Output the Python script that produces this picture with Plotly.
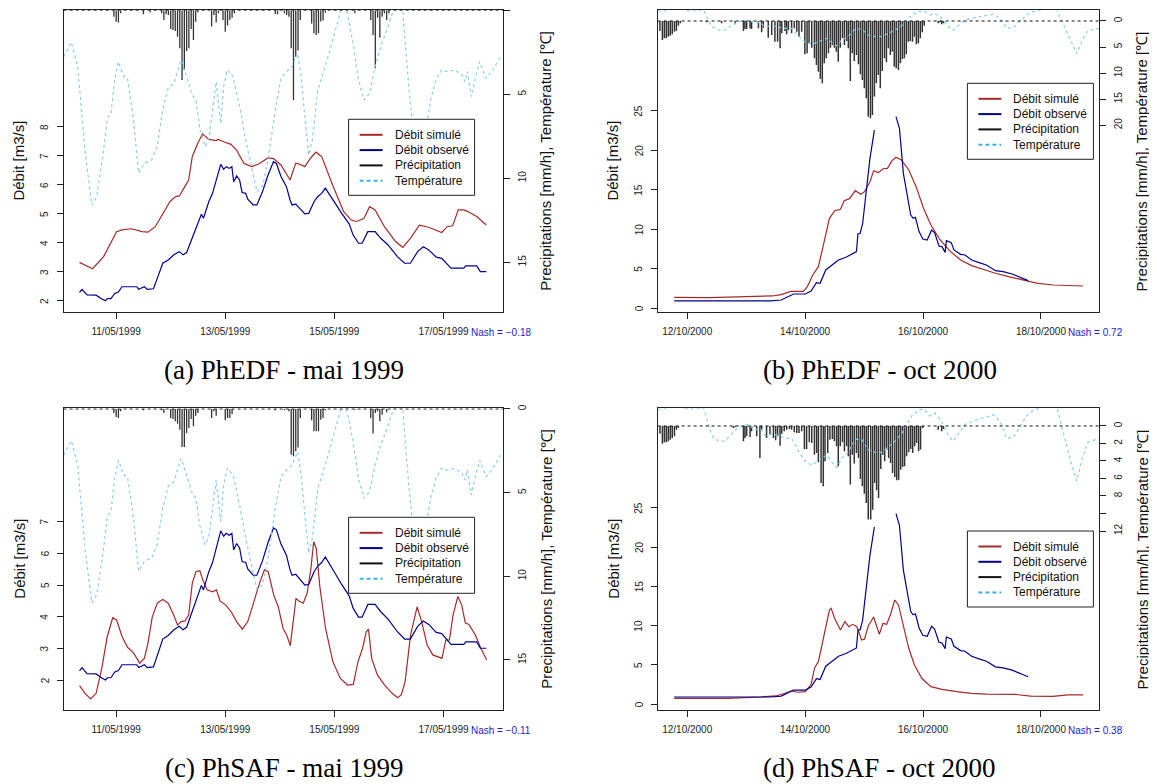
import pandas as pd
import plotly.graph_objects as go

# the page puts the figure 8 px in from the top-left corner (body margin),
# so positions below are read in page pixels and shifted by OFF
OFF = 8
W, H = 1157 - OFF, 784 - OFF
MAY0 = pd.Timestamp("1999-05-10")
OCT0 = pd.Timestamp("2000-10-11")

# ---------------- data (hours after MAY0 / OCT0) ----------------
OBS_MAY_H = [7.9, 9.0, 11.2, 15.2, 17.7, 19.3, 20.1, 21.7, 23.4, 25.0, 26.6, 33.1, 33.9, 36.4, 37.7,
             40.4, 42.9, 44.5, 46.9, 49.4, 51.8, 53.4, 55.0, 57.5, 59.9, 61.5, 62.4, 64.8, 66.4, 68.0,
             70.0, 71.3, 72.4, 73.7, 74.9, 75.7, 77.0, 78.3, 79.4, 81.0, 81.9, 84.3, 85.9, 88.4, 90.8,
             93.2, 94.5, 96.5, 98.9, 100.5, 101.4, 103.0, 105.4, 107.0, 108.7, 111.1, 112.7, 114.4,
             116.0, 117.6, 120.8, 123.2, 126.5, 128.2, 130.6, 132.2, 134.7, 137.9, 140.4, 143.6, 147.7,
             150.9, 153.4, 156.6, 159.1, 161.5, 164.8, 167.2, 171.3, 176.9, 177.8, 182.6, 184.2, 186.8]
OBS_MAY_Q = [2.30, 2.40, 2.21, 2.20, 2.07, 2.01, 2.08, 2.08, 2.26, 2.31, 2.49, 2.49, 2.40, 2.49, 2.40,
             2.42, 2.95, 3.30, 3.41, 3.59, 3.70, 3.59, 3.67, 4.16, 4.70, 4.99, 4.85, 5.43, 5.71, 6.17,
             6.71, 6.54, 6.63, 6.57, 6.63, 6.11, 6.31, 6.17, 5.74, 5.71, 5.51, 5.31, 5.31, 5.77, 6.34,
             6.80, 6.74, 6.29, 5.94, 5.48, 5.31, 5.34, 5.14, 5.00, 5.02, 5.43, 5.60, 5.71,
             5.89, 5.71, 5.31, 5.02, 4.66, 4.28, 3.99, 3.99, 4.39, 4.39, 4.16, 3.93, 3.53,
             3.30, 3.30, 3.70, 3.87, 3.76, 3.51, 3.47, 3.13, 3.13, 3.21, 3.21, 3.01, 3.01]

SIM_A_H = [7.9, 13.6, 18.5, 21.7, 24.2, 26.6, 30.7, 35.5, 38.0, 41.2, 44.5, 47.7, 50.2, 51.8, 54.2,
           55.9, 57.5, 59.9, 62.0, 64.8, 68.0, 68.8, 71.3, 74.5, 77.0, 80.2, 83.5, 86.7, 90.8, 93.2,
           96.5, 100.5, 103.0, 104.6, 107.0, 109.5, 111.9, 114.4, 119.2, 124.1, 127.4, 129.8, 133.0,
           135.5, 137.9, 142.0, 146.9, 150.1, 153.4, 157.4, 161.5, 167.2, 169.6, 172.0, 174.5, 176.9,
           178.5, 182.6, 186.8]
SIM_A_Q = [3.33, 3.11, 3.53, 3.99, 4.39, 4.45, 4.49, 4.39, 4.37, 4.56, 5.02, 5.43, 5.60, 5.62, 5.94,
           6.17, 6.98, 7.44, 7.76, 7.57, 7.53, 7.57, 7.49, 7.40, 7.20, 6.75, 6.63, 6.72, 6.93, 6.91,
           6.69, 6.17, 6.75, 6.72, 6.63, 6.92, 7.13, 6.98, 6.00, 5.08, 4.79, 4.74, 4.85,
           5.25, 5.14, 4.56, 4.05, 3.85, 4.16, 4.61, 4.54, 4.36, 4.56, 4.59, 5.14, 5.14,
           5.09, 4.91, 4.62]

SIM_C_H = [7.9, 10.3, 12.8, 15.2, 17.7, 20.1, 22.5, 24.2, 26.6, 29.0, 31.5, 34.4, 36.4, 38.0, 39.9,
           42.1, 44.5, 46.9, 49.4, 51.0, 52.6, 54.3, 55.9, 57.5, 59.1, 60.8, 62.4, 64.0, 66.5, 68.1,
           69.7, 72.2, 74.6, 77.0, 79.5, 81.9, 84.4, 86.8, 89.2, 90.9, 93.3, 95.3, 97.4, 99.0, 100.6,
           101.8, 103.1, 104.4, 106.3, 108.0, 109.6, 110.9, 112.0, 113.6, 116.1, 119.3, 122.6, 125.8,
           128.3, 130.4, 132.4, 134.0, 135.0, 136.4, 138.9, 142.1, 145.4, 147.8, 149.4, 151.1, 153.5,
           156.4, 158.4, 160.8, 163.3, 167.3, 169.0, 170.6, 172.2, 174.3, 176.0, 177.6, 179.2, 182.0,
           184.4, 187.0]
SIM_C_Q = [1.83, 1.59, 1.41, 1.59, 2.38, 3.38, 3.97, 3.90, 3.38, 3.04, 2.88, 2.54, 2.69, 3.17, 4.00,
           4.43, 4.55, 4.43, 4.04, 3.74, 3.85, 3.87, 4.06, 5.06, 5.42, 5.45, 5.11, 4.85, 4.79, 4.85,
           4.50, 4.37, 4.16, 3.85, 3.61, 3.85, 4.43, 5.00, 5.48, 5.42, 4.69, 4.32, 3.64, 3.43, 3.09,
           3.85, 4.58, 4.50, 4.43, 4.74, 5.48, 6.37, 6.16, 4.95, 3.64, 2.59, 2.06, 1.85,
           1.87, 2.59, 3.01, 3.53, 3.61, 2.69, 2.17, 1.85, 1.59, 1.45, 1.54, 1.96, 3.43,
           4.31, 3.85, 3.11, 2.80, 2.69, 3.27, 3.27, 4.06, 4.64, 4.37, 3.80, 3.76, 3.43,
           3.01, 2.64]

TEMP_MAY_H = [0.9, 4.3, 7.1, 10.3, 13.3, 15.5, 18.5, 20.1, 21.7, 23.4, 25.0, 27.4, 29.0, 31.5, 33.9,
              36.4, 39.6, 42.0, 44.5, 46.9, 49.4, 52.6, 55.0, 57.5, 59.1, 60.7, 63.2, 64.8, 66.4, 68.0,
              68.9, 70.0, 71.3, 72.9, 75.4, 78.6, 81.0, 83.5, 85.9, 88.4, 90.8, 94.0, 96.5, 98.9, 101.4,
              103.8, 105.4, 107.0, 108.7, 110.3, 112.7, 116.0, 119.2, 122.5, 124.1, 125.7, 128.2, 130.6,
              133.0, 135.5, 137.9, 140.4, 143.6, 146.9, 150.1, 152.6, 155.0, 156.6, 159.9, 162.3, 164.7,
              167.2, 169.6, 172.9, 176.1, 177.4, 178.5, 180.2, 181.8, 183.9, 186.7, 189.2, 193.2]
TEMP_MAY = [2.76, 1.90, 3.35, 8.31, 11.59, 11.09, 8.31, 6.43, 6.13, 4.15, 3.06, 3.95, 4.05, 6.33, 9.70,
            9.11, 8.91, 8.12, 5.93, 4.64, 4.35, 2.96, 3.95, 5.04, 5.34, 6.92, 8.12, 7.62, 5.93, 4.25,
            5.34, 6.73, 4.54, 3.55, 3.95, 5.93, 7.72, 9.31, 10.79, 10.50, 8.91, 5.93, 4.05, 3.65, 3.35,
            2.56, 3.95, 6.33, 8.61, 7.72, 4.74, 3.35, 1.77, 0.18, -0.4, 0.18, 1.96, 4.15,
            5.34, 4.94, 3.35, 2.16, 0.97, -0.4, 0.08, 4.35, 7.72, 8.91, 7.52, 5.34, 4.15,
            3.55, 3.65, 3.55, 3.85, 4.25, 3.65, 5.14, 4.15, 3.06, 4.05, 3.65, 2.76]

RAIN_A_H = [23, 24, 25, 26, 36, 39, 44, 45, 46, 47, 48, 49, 50, 51, 52, 53, 54, 55, 56, 57, 58, 59, 60,
            66, 67, 68, 69, 71, 72, 73, 74, 75, 76, 94, 95, 98, 99, 100, 101, 102, 103, 104, 105,
            110, 111, 112, 113, 114, 115, 116, 129, 136, 137, 138, 139, 140, 141, 142, 143, 144]
RAIN_A = [0.38, 0.68, 0.72, 0.18, 0.24, 0.12, 0.18, 0.58, 0.24, 0.28, 1.11, 1.17, 1.23, 1.57, 2.26,
          4.15, 3.55, 2.42, 2.26, 1.11, 1.77, 0.68, 0.12, 0.97, 0.28, 0.72, 0.18, 0.58, 1.27, 0.91,
          0.58, 0.44, 0.18, 0.24, 0.24, 0.18, 0.28, 0.38, 2.26, 5.34, 2.76, 2.40, 0.58,
          0.78, 1.37, 1.47, 1.37, 0.66, 0.60, 0.15, 0.18, 0.58, 1.47, 3.45, 0.45, 1.63, 0.38, 0.18,
          0.58, 0.18]

RAIN_C_H = [23, 24, 25, 26, 36, 44, 45, 48, 49, 50, 51, 52, 53, 54, 55, 56, 57, 58, 59, 60, 66, 67, 68,
            72, 73, 74, 75, 94, 98, 100, 101, 102, 103, 104, 105, 110, 111, 112, 113, 114, 115, 116,
            129, 136, 137, 138, 139, 140, 141, 143]
RAIN_C = [0.24, 0.48, 0.54, 0.14, 0.08, 0.08, 0.24, 0.54, 0.60, 0.74, 0.88, 1.24, 2.27, 2.27, 1.43,
          1.14, 0.60, 1.04, 0.40, 0.24, 0.54, 0.14, 0.40, 0.68, 0.54, 0.54, 0.30, 0.08, 0.08, 0.14,
          2.73, 2.83, 2.53, 2.30, 0.54, 0.68, 1.33, 1.33, 1.33, 0.64, 0.54, 0.08, 0.04, 0.54, 1.47,
          0.24, 0.14, 0.74, 0.34, 0.20]

OBS_OCT_H = [18.7, 57.8, 62.3, 64.6, 67.3, 72.1, 74.4, 76.6, 78.1, 80.4, 82.6, 85.6, 88.6, 91.7, 92.9,
             93.5, 94.4, 95.4, 96.9, 98.4, 100.2, 104.6, 109.0, 110.4, 112.0, 113.5, 115.0, 116.0,
             116.9, 118.4, 119.9, 121.7, 123.5, 124.7, 126.5, 127.7, 129.0, 129.5, 131.5, 132.6,
             135.3, 137.1, 139.8, 142.8, 145.8, 149.5, 152.6, 156.3, 158.6, 160.8, 162.8]
OBS_OCT_Q = [0.93, 0.93, 1.05, 1.39, 1.81, 1.81, 2.19, 3.25, 3.16, 4.85, 5.35, 6.11, 6.45, 6.96, 7.17,
             9.40, 9.49, 10.67, 14.97, 18.97, 22.55, None, 24.24, 22.77, 17.07, 14.54, 11.80, 11.38,
             11.51, 9.70, 8.77, 8.64, 9.91, 9.57, 7.88, 7.80, 7.08, 8.56, 8.31, 7.38,
             6.83, 6.75, 6.11, 5.78, 5.48, 4.76, 4.64, 4.34, 4.00, 3.75, 3.50]

SIM_B_H = [18.7, 33.0, 48.0, 58.6, 62.3, 66.1, 71.3, 72.9, 75.1, 77.4, 79.6, 81.9, 84.1, 86.4, 87.9,
           90.1, 92.4, 94.7, 96.2, 98.4, 99.9, 101.9, 103.7, 105.5, 107.4, 109.0, 111.2, 114.2, 117.2,
           120.2, 123.2, 127.0, 130.8, 135.3, 139.8, 144.3, 149.5, 154.8, 160.8, 166.8, 172.9, 178.9,
           185.2]
SIM_B_Q = [1.39, 1.35, 1.48, 1.56, 1.73, 2.15, 2.15, 2.74, 4.22, 5.27, 8.22, 11.38, 12.35, 12.52, 13.62,
           13.87, 14.88, 14.42, 14.76, 16.02, 17.41, 17.16, 17.66, 17.71, 18.68, 19.10, 18.76, 17.50,
           15.39, 12.65, 10.54, 8.64, 7.29, 6.11, 5.40, 4.93, 4.43, 4.00, 3.58, 3.16, 2.95, 2.91,
           2.82]

SIM_D_H = [18.7, 40.5, 54.1, 60.1, 63.8, 66.1, 69.1, 72.1, 74.4, 75.9, 77.4, 78.9, 80.4, 81.9, 82.6,
           84.1, 86.4, 88.2, 89.8, 91.3, 93.1, 95.0, 96.2, 97.7, 99.9, 102.2, 103.7, 105.2, 106.7,
           108.5, 110.0, 112.0, 114.2, 116.5, 119.5, 123.2, 127.7, 133.8, 139.8, 145.8, 153.3, 157.8,
           163.8, 172.9, 178.9, 185.2]
SIM_D_Q = [0.75, 0.75, 0.93, 1.06, 1.40, 1.69, 1.53, 1.61, 2.54, 4.66, 5.42, 7.54, 10.08, 11.99, 12.20,
           10.85, 9.45, 10.51, 9.87, 10.17, 9.87, 8.18, 8.31, 9.96, 11.10, 8.90, 10.30, 10.17, 11.36,
           13.26, 12.63, 10.08, 7.12, 5.00, 3.31, 2.25, 1.90, 1.60, 1.40, 1.30, 1.30, 1.25,
           1.05, 1.00, 1.20, 1.20]

TEMP_OCT_H = [12.0, 15.0, 18.0, 21.0, 23.1, 27.0, 30.6, 31.9, 34.0, 36.7, 39.4, 42.1, 44.8, 48.9, 51.6,
              53.6, 55.7, 58.4, 61.1, 63.8, 66.5, 69.2, 71.9, 74.7, 77.4, 80.8, 82.8, 84.9, 86.9, 89.6,
              92.3, 95.0, 97.7, 100.5, 103.2, 105.9, 108.6, 111.3, 115.4, 118.8, 120.8, 122.8, 124.9,
              127.6, 130.3, 132.3, 134.4, 137.1, 141.2, 145.2, 148.6, 151.3, 154.1, 156.8, 159.5,
              162.2, 164.9, 170.0, 174.4, 177.4, 180.4, 182.6, 184.9, 187.1, 191.8]
TEMP_OCT = [-1.9, -2.0, -2.6, -2.4, -2.0, -1.95, -2.1, -0.83, 1.09, 1.73, 1.73, 0.90, 0.13, -0.19, 0.45,
            0.26, 1.09, 0.90, 1.09, 1.41, 1.41, 2.82, 3.97, 4.49, 3.97, 3.33, 4.10, 4.74, 3.65, 3.01,
            1.54, 1.54, 2.69, 3.01, 3.01, 2.37, 1.73, 0.90, -1.15, -1.92, -1.79, -1.15, -1.47,
            -0.51, 1.09, 1.73, 0.90, -0.19, -0.64, -1.03, -1.28, -0.51, 1.41, 1.28, 0.13,
            -1.15, -1.79, -2.3, -2.2, 1.0, 4.3, 6.3, 3.65, 1.86, 1.40]

RAIN_B_H = [12.9, 13.9, 14.7, 15.5, 16.3, 17.1, 17.9, 18.8, 19.6, 20.4,
            21.2, 31.9, 38.0, 43.5, 46.9, 47.5, 48.2, 49.6, 50.2, 53.0,
            54.3, 55.0, 57.0, 58.4, 59.7, 60.8, 61.8, 62.5, 63.8, 64.5,
            65.2, 66.5, 67.6, 68.6, 69.5, 70.6, 71.9, 72.8, 73.6, 74.7,
            75.8, 76.6, 77.4, 78.2, 79.0, 79.8, 80.6, 81.5, 82.3, 83.1,
            83.9, 84.7, 85.5, 86.3, 87.2, 88.0, 88.9, 89.6, 90.4, 91.2,
            92.0, 92.9, 93.7, 94.5, 95.3, 96.1, 96.9, 97.7, 98.6, 99.4,
            100.2, 101.0, 101.8, 102.6, 103.4, 104.3, 105.1, 105.9, 106.7, 107.5,
            108.3, 109.1, 110.0, 110.8, 111.6, 112.4, 113.2, 114.0, 114.8, 115.7,
            116.5, 117.3, 118.1, 118.9, 119.7, 120.5, 126.2, 126.9, 127.6, 128.3]
RAIN_B = [1.92, 3.64, 3.32, 3.32, 3.00, 2.81, 2.56, 2.04, 1.92, 0.89,
          0.45, 0.26, 0.45, 0.64, 1.92, 1.53, 1.53, 1.41, 1.53, 1.41,
          2.17, 1.28, 3.19, 2.68, 3.96, 3.96, 5.24, 2.36, 1.92, 2.56,
          1.73, 2.36, 1.41, 2.04, 3.00, 2.04, 6.39, 6.20, 4.28, 5.11,
          7.16, 8.43, 9.71, 11.12, 11.95, 8.12, 7.16, 6.20, 5.11, 4.60,
          5.11, 5.88, 7.80, 5.11, 3.32, 4.60, 3.83, 5.24, 11.50, 6.20,
          7.67, 6.52, 8.31, 10.22, 11.31, 12.91, 14.82, 18.34, 18.66, 18.02,
          14.50, 11.95, 10.35, 12.91, 9.58, 7.16, 7.92, 5.24, 6.52, 5.88,
          8.75, 9.07, 9.39, 8.12, 7.28, 7.16, 6.39, 3.96, 3.83, 3.96,
          3.00, 4.47, 4.28, 3.32, 2.17, 0.89, 0.45, 0.26, 0.64, 0.45]

RAIN_D_H = [12.9, 13.9, 14.7, 15.5, 16.3, 17.1, 17.9, 18.8, 19.6, 20.4,
            42.8, 43.5, 46.9, 47.5, 48.2, 49.6, 50.2, 52.3, 53.6, 54.3,
            56.3, 57.7, 59.1, 60.0, 60.8, 61.8, 62.5, 63.5, 64.5, 65.6,
            66.5, 67.6, 68.6, 69.5, 70.6, 71.7, 72.6, 73.7, 74.7, 75.8,
            76.7, 77.4, 78.5, 79.4, 80.1, 81.2, 82.1, 83.1, 83.9, 84.8,
            85.5, 86.3, 87.2, 88.0, 88.9, 89.6, 90.4, 91.2, 92.0, 92.9,
            93.7, 94.5, 95.3, 96.1, 96.9, 97.7, 98.7, 99.5, 100.3, 101.1,
            101.9, 102.8, 103.6, 104.4, 105.2, 106.0, 106.8, 107.6, 108.5, 109.3,
            110.1, 110.9, 111.7, 112.5, 113.3, 114.2, 115.0, 115.8, 116.6, 117.4,
            118.2, 119.0, 119.9, 126.2, 127.6, 128.3]
RAIN_D = [0.88, 2.02, 1.87, 1.87, 1.75, 1.56, 1.37, 1.18, 0.42, 0.23,
          0.23, 0.11, 1.75, 1.37, 1.18, 1.26, 0.61, 1.18, 3.66, 0.42,
          1.37, 0.99, 1.37, 1.64, 1.18, 2.25, 0.88, 0.61, 0.42, 0.34,
          0.42, 0.72, 0.80, 0.80, 0.61, 2.63, 2.63, 1.87, 1.94, 3.28,
          3.09, 4.15, 6.51, 6.90, 4.04, 3.09, 1.56, 1.49, 1.75, 2.32,
          4.61, 2.32, 1.87, 2.90, 2.32, 3.47, 6.70, 3.28, 4.30, 3.09,
          3.66, 6.06, 6.90, 7.73, 8.80, 10.70, 10.70, 9.56, 6.51, 7.35,
          8.23, 4.91, 3.28, 4.04, 2.70, 3.66, 4.23, 5.37, 5.83, 6.21,
          6.13, 4.99, 4.69, 4.61, 3.47, 3.01, 2.63, 3.09, 2.32, 1.94,
          2.90, 2.70, 0.23, 0.42, 0.61, 0.34]

MAY_TICKS = ["1999-05-11", "1999-05-13", "1999-05-15", "1999-05-17"]
MAY_LABELS = ["11/05/1999", "13/05/1999", "15/05/1999", "17/05/1999"]
OCT_TICKS = ["2000-10-12", "2000-10-14", "2000-10-16", "2000-10-18"]
OCT_LABELS = ["12/10/2000", "14/10/2000", "16/10/2000", "18/10/2000"]

LEGEND_LABELS = ["Débit simulé", "Débit observé", "Précipitation", "Température"]
NASH = ["Nash = \u22120.18", "Nash = 0.72", "Nash = \u22120.11", "Nash = 0.38"]
CAPTIONS = ["(a) PhEDF - mai 1999", "(b) PhEDF - oct 2000",
            "(c) PhSAF - mai 1999", "(d) PhSAF - oct 2000"]

SIM_COL = "#A52A2A"
OBS_COL = "#00008B"
RAIN_COL = "#333333"
TEMP_COL = "#87CEEB"
NASH_COL = "#1c1cc8"
SANS = "Liberation Sans, Arial, sans-serif"
SERIF = "Liberation Serif, Times New Roman, serif"


def px(x):
    return (x - OFF) / W


def py(y):
    return 1 - (y - OFF) / H


def when(t0, hours):
    return [t0 + pd.Timedelta(hours=h) for h in hours]


def spikes(t0, hours, values):
    # R type="h": one vertical segment from 0 to the value at every time step
    xs, ys = [], []
    for t, v in zip(when(t0, hours), values):
        xs += [t, t, None]
        ys += [0, v, None]
    return xs, ys


panels = [
    dict(t0=MAY0, xr=(0.89, 194.07), box=(63.6, 10.3, 502.8, 311.7),
         ticks=MAY_TICKS, labels=MAY_LABELS,
         lrange=[1.63, 12.02], lticks=[2, 3, 4, 5, 6, 7, 8],
         rrange=[17.94, 0], rticks=[0, 5, 10, 15], rtext=["0", "5", "10", "15"],
         sim=(SIM_A_H, SIM_A_Q), obs=(OBS_MAY_H, OBS_MAY_Q), rain=(RAIN_A_H, RAIN_A),
         temp=(TEMP_MAY_H, TEMP_MAY), leg=(348.6, 119.3), barw=1.3),
    dict(t0=OCT0, xr=(11.95, 191.8), box=(657.6, 10.3, 1099.4, 311.7),
         ticks=OCT_TICKS, labels=OCT_LABELS,
         lrange=[-0.43, 37.7], lticks=[0, 5, 10, 15, 20, 25],
         rrange=[55.74, -2.05], rticks=[0, 5, 10, 15, 20], rtext=["0", "5", "10", "15", "20"],
         sim=(SIM_B_H, SIM_B_Q), obs=(OBS_OCT_H, OBS_OCT_Q), rain=(RAIN_B_H, RAIN_B),
         temp=(TEMP_OCT_H, TEMP_OCT), leg=(967.4, 83.3), barw=1.5),
    dict(t0=MAY0, xr=(0.89, 194.07), box=(63.6, 408.3, 502.8, 709.8),
         ticks=MAY_TICKS, labels=MAY_LABELS,
         lrange=[1.07, 10.57], lticks=[2, 3, 4, 5, 6, 7],
         rrange=[17.98, -0.04], rticks=[0, 5, 10, 15], rtext=["0", "5", "10", "15"],
         sim=(SIM_C_H, SIM_C_Q), obs=(OBS_MAY_H, OBS_MAY_Q), rain=(RAIN_C_H, RAIN_C),
         temp=(TEMP_MAY_H, TEMP_MAY), leg=(348.6, 517.3), barw=1.3),
    dict(t0=OCT0, xr=(11.95, 191.8), box=(657.6, 408.3, 1099.4, 709.8),
         ticks=OCT_TICKS, labels=OCT_LABELS,
         lrange=[-0.7, 37.64], lticks=[0, 5, 10, 15, 20, 25],
         rrange=[32.43, -2.02], rticks=[0, 2, 4, 6, 8, 10, 12],
         rtext=["0", "2", "4", "6", "8", "", "12"],
         sim=(SIM_D_H, SIM_D_Q), obs=(OBS_OCT_H, OBS_OCT_Q), rain=(RAIN_D_H, RAIN_D),
         temp=(TEMP_OCT_H, TEMP_OCT), leg=(967.4, 531.0), barw=1.5),
]

fig = go.Figure()
layout = {}
shapes = []
annotations = []
tickfont = dict(family=SANS, size=10, color="#222")


def note(text, x, y, size, color="#111", family=SANS, angle=0, xanchor="center", yref=None):
    annotations.append(dict(text=text, x=px(x), y=py(y) if yref is None else y, xref="paper",
                            yref="paper" if yref is None else yref,
                            xanchor=xanchor, yanchor="middle", textangle=angle,
                            showarrow=False, borderpad=0,
                            font=dict(family=family, size=size, color=color)))


for i, p in enumerate(panels):
    n = i + 1
    xa = "x" if n == 1 else f"x{n}"
    ya = "y" if n == 1 else f"y{2 * n - 1}"
    yb = f"y{2 * n}"
    x0, y0, x1, y1 = p["box"]
    t0 = p["t0"]

    fig.add_trace(go.Scatter(x=when(t0, p["sim"][0]), y=p["sim"][1], mode="lines",
                             line=dict(color=SIM_COL, width=1.2), xaxis=xa, yaxis=ya))
    fig.add_trace(go.Scatter(x=when(t0, p["obs"][0]), y=p["obs"][1], mode="lines",
                             line=dict(color=OBS_COL, width=1.2), xaxis=xa, yaxis=ya,
                             connectgaps=False))
    rx, ry = spikes(t0, *p["rain"])
    fig.add_trace(go.Scatter(x=rx, y=ry, mode="lines",
                             line=dict(color=RAIN_COL, width=p["barw"]),
                             xaxis=xa, yaxis=yb, connectgaps=False))
    fig.add_trace(go.Scatter(x=when(t0, p["temp"][0]), y=p["temp"][1], mode="lines",
                             line=dict(color=TEMP_COL, width=1.2, dash="3px,3px"),
                             xaxis=xa, yaxis=yb))

    xname = "xaxis" if n == 1 else f"xaxis{n}"
    yname = "yaxis" if n == 1 else f"yaxis{2 * n - 1}"
    yname2 = f"yaxis{2 * n}"
    layout[xname] = dict(
        domain=[px(x0), px(x1)], anchor=ya, type="date",
        range=[t0 + pd.Timedelta(hours=p["xr"][0]), t0 + pd.Timedelta(hours=p["xr"][1])],
        tickvals=p["ticks"], ticktext=p["labels"], ticks="outside", ticklen=6,
        tickcolor="#222", showline=True, mirror=True, linecolor="#222", linewidth=1,
        showgrid=False, zeroline=False, tickfont=tickfont, automargin=False,
        ticklabelstandoff=4)
    # left tick labels are written as rotated notes at the tick values (R las=0 style)
    layout[yname] = dict(
        domain=[py(y1), py(y0)], anchor=xa, range=p["lrange"], tickvals=p["lticks"],
        ticks="outside", ticklen=6, tickcolor="#222", showticklabels=False, showline=True,
        mirror=True, linecolor="#222", linewidth=1, showgrid=False, zeroline=False,
        automargin=False)
    layout[yname2] = dict(
        overlaying=ya, side="right", anchor=xa, range=p["rrange"], tickvals=p["rticks"],
        ticktext=p["rtext"], ticks="outside", ticklen=6, tickcolor="#222", tickangle=-90,
        showline=False, showgrid=False, zeroline=False, tickfont=tickfont,
        automargin=False, ticklabelstandoff=4)
    for v in p["lticks"]:
        note(str(v), x0 - 18.6, v, 10, color="#222", angle=-90, yref=ya)

    # dotted zero line of the precipitation axis
    shapes.append(dict(type="line", xref=f"{xa} domain", x0=0, x1=1, yref=yb, y0=0, y1=0,
                       line=dict(color="#111", width=1, dash="dot")))

    cy = (y0 + y1) / 2
    note("Débit [m3/s]", x0 - 45, cy, 15, angle=-90)
    note("Precipitations [mm/h], Température [\u2103]", x1 + 43, cy, 15, angle=-90)
    note(NASH[i], x1 - 32.5, y1 + 20.5, 10, color=NASH_COL, xanchor="left")
    note(CAPTIONS[i], (x0 + x1) / 2 + 1, y1 + 58, 27, color="#000", family=SERIF)

    # legend box
    lx, ly = p["leg"]
    shapes.append(dict(type="rect", xref="paper", yref="paper", x0=px(lx), x1=px(lx + 126),
                       y0=py(ly), y1=py(ly + 76), fillcolor="white",
                       line=dict(color="#222", width=1), layer="above"))
    styles = [dict(color=SIM_COL, width=2), dict(color=OBS_COL, width=2),
              dict(color="#111", width=2), dict(color="#3db0e6", width=2, dash="4px,3px")]
    for k, lab in enumerate(LEGEND_LABELS):
        ry_ = ly + 15.5 + k * 15.3
        shapes.append(dict(type="line", xref="paper", yref="paper", x0=px(lx + 11),
                           x1=px(lx + 34), y0=py(ry_), y1=py(ry_), line=styles[k],
                           layer="above"))
        note(lab, lx + 45, ry_, 12, xanchor="left")

fig.update_layout(**layout)
fig.update_layout(
    width=W, height=H, autosize=False,
    margin=dict(l=0, r=0, t=0, b=0),
    paper_bgcolor="white", plot_bgcolor="white",
    shapes=shapes, annotations=annotations, showlegend=False,
)

fig.write_html("out.html")
